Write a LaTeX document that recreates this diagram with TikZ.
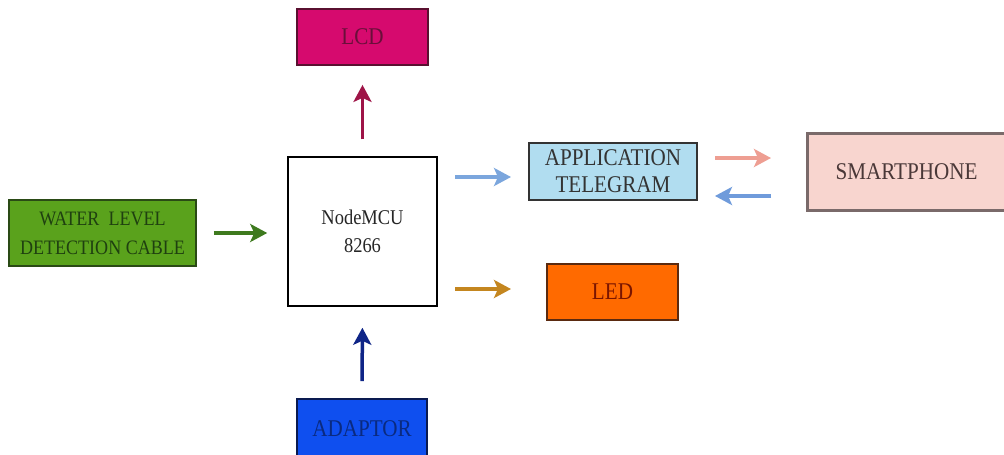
\documentclass[tikz,border=0pt]{standalone}
\usepackage{fontspec}
\setmainfont[FakeStretch=0.88]{Liberation Serif}
\usetikzlibrary{arrows.meta}
\definecolor{lcdfill}{HTML}{D60A6E}
\definecolor{lcdtext}{HTML}{6A0F3A}
\definecolor{lcdline}{HTML}{5A1030}
\definecolor{lcdarr}{HTML}{9E1447}
\definecolor{wfill}{HTML}{5AA21C}
\definecolor{wtext}{HTML}{1F4010}
\definecolor{wline}{HTML}{2A4A15}
\definecolor{warr}{HTML}{3E7A1E}
\definecolor{afill}{HTML}{B1DDF0}
\definecolor{atext}{HTML}{333333}
\definecolor{aline}{HTML}{333333}
\definecolor{sfill}{HTML}{F8D5CF}
\definecolor{stext}{HTML}{4A3838}
\definecolor{sline}{HTML}{7A6A6A}
\definecolor{lfill}{HTML}{FF6A00}
\definecolor{ltext}{HTML}{7A1500}
\definecolor{lline}{HTML}{5A2A10}
\definecolor{dfill}{HTML}{0F4FEF}
\definecolor{dtext}{HTML}{0A2A80}
\definecolor{dline}{HTML}{0A1A50}
\definecolor{arrA}{HTML}{7BA6DD}
\definecolor{arrB}{HTML}{EE9E92}
\definecolor{arrC}{HTML}{6F9BDB}
\definecolor{arrL}{HTML}{C4861F}
\definecolor{arrD}{HTML}{0F2587}
\tikzset{
  box/.style={draw, rectangle, line width=1.8pt, inner sep=0pt, align=center,
    font=\fontsize{24}{27}\selectfont},
  arr/.style={line width=3.5pt, -{Stealth[length=17pt,width=18pt,inset=4pt]}},
}
\begin{document}
\begin{tikzpicture}[x=1pt,y=-1pt]
\useasboundingbox (0,0) rectangle (1004,455);
\fill[white] (0,0) rectangle (1004,455);

\node[box, fill=lcdfill, draw=lcdline, text=lcdtext, minimum width=131pt, minimum height=56pt] (lcd) at (362.5,37) {LCD};
\node[box, draw=black, fill=white, text=black!85, line width=1.5pt, minimum width=149pt, minimum height=149pt, font=\fontsize{21}{28}\selectfont] (mcu) at (362.5,231.5) {NodeMCU\\8266};
\node[box, fill=wfill, draw=wline, text=wtext, minimum width=187pt, minimum height=66pt, font=\fontsize{20.5}{29}\selectfont] (water) at (102.5,233) {WATER\ \ LEVEL\\DETECTION CABLE};
\node[box, fill=afill, draw=aline, text=atext, minimum width=168pt, minimum height=57pt] (app) at (613,171.5) {APPLICATION\\TELEGRAM};
\node[box, fill=sfill, draw=sline, text=stext, line width=3pt, minimum width=199pt, minimum height=77pt] (smart) at (906.5,171.5) {SMARTPHONE};
\node[box, fill=lfill, draw=lline, text=ltext, minimum width=131pt, minimum height=56pt] (led) at (612.5,292) {LED};
\node[box, fill=dfill, draw=dline, text=dtext, minimum width=130pt, minimum height=59pt] (adp) at (362,428.5) {ADAPTOR};

\coordinate (t1) at (455,177);
\coordinate (t2) at (511,177);
\coordinate (s1) at (715,158);
\coordinate (s2) at (771,158);
\coordinate (r1) at (771,196);
\coordinate (r2) at (715,196);
\coordinate (l1) at (455,289);
\coordinate (l2) at (511,289);

\draw[arr, lcdarr, shorten <=17pt, shorten >=19pt] (mcu.north) -- (lcd.south);
\draw[arr, arrD, shorten <=17pt, shorten >=21pt] (adp.north) -- (mcu.south);
\draw[arr, warr, shorten <=17pt, shorten >=20pt] (water.east) -- (water.east -| mcu.west);
\draw[arr, arrA] (t1) -- (t2);
\draw[arr, arrB] (s1) -- (s2);
\draw[arr, arrC] (r1) -- (r2);
\draw[arr, arrL] (l1) -- (l2);
\end{tikzpicture}
\end{document}
